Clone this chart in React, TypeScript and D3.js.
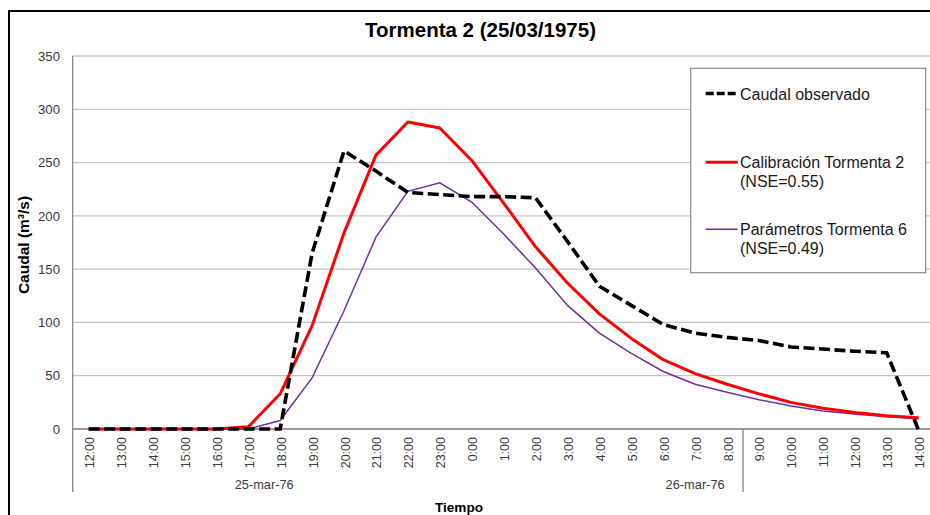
import React from "react";
import * as d3 from "d3";

const categories = [
  "12:00","13:00","14:00","15:00","16:00","17:00","18:00","19:00","20:00","21:00","22:00","23:00",
  "0:00","1:00","2:00","3:00","4:00","5:00","6:00","7:00","8:00","9:00","10:00","11:00","12:00","13:00","14:00",
];
const observado = [0,0,0,0,0,0,0,165,261,242,222,220,218,218,217,176,134,116,98,90,86,83,77,75,73,71.5,-1];
const calibracion = [0,0,0,0,0,2,33,97,184,257,288,282.5,252,212,171,137,108,85,65,52,42,33,25,19.5,15.5,12.5,10.5];
const parametros = [0,0,0,0,0,0,8,48,111,180,223,231,213,183,151,116,90,71,54,42,34.5,27.5,21.5,17,14,11.5,9.7];
const yTicks = [0,50,100,150,200,250,300,350];
const dateGroups = [
  { label: "25-mar-76", from: 0, to: 11 },
  { label: "26-mar-76", from: 12, to: 26 },
];
const separatorAfter = 20;

const FONT = "'Liberation Sans', Arial, sans-serif";

export default function App() {
  const left = 72.7;
  const step = 31.92;
  const right = left + step * categories.length;
  const top = 56;
  const bottom = 429;

  const x = d3.scalePoint<string>().domain(categories.map((c, i) => String(i))).range([left, right]).padding(0.5);
  const xi = (i: number) => x(String(i)) as number;
  const y = d3.scaleLinear().domain([0, 350]).range([bottom, top]);

  const line = d3
    .line<number>()
    .x((_, i) => xi(i))
    .y((d) => y(d));

  const sepX = (xi(separatorAfter) + xi(separatorAfter + 1)) / 2;

  const legendX1 = 705.7;
  const legendX2 = 737.7;

  return (
    <svg
      width={930}
      height={515}
      style={{ position: "absolute", left: 0, top: 0, background: "#fff" }}
      fontFamily={FONT}
    >
      <rect x={0} y={0} width={930} height={515} fill="#fff" />
      {/* outer chart border */}
      <rect x={9} y={11} width={1000} height={600} fill="none" stroke="#000" strokeWidth={2} />

      {/* title */}
      <text x={480.5} y={36.5} textAnchor="middle" fontSize={20.5} fontWeight="bold" fill="#000">
        Tormenta 2 (25/03/1975)
      </text>

      {/* gridlines */}
      {yTicks.map((t) => (
        <line key={t} x1={left} x2={right} y1={y(t)} y2={y(t)} stroke="#c4c4c4" strokeWidth={1.3} />
      ))}
      {/* axes */}
      <line x1={left} x2={right} y1={bottom} y2={bottom} stroke="#868686" strokeWidth={1.3} />
      <line x1={left} x2={left} y1={top} y2={492} stroke="#868686" strokeWidth={1.3} />
      <line x1={sepX} x2={sepX} y1={bottom} y2={492} stroke="#868686" strokeWidth={1.3} />

      {/* y tick labels */}
      {yTicks.map((t) => (
        <text key={t} x={60} y={y(t) + 4.7} textAnchor="end" fontSize={13.2} fill="#3a3a3a">
          {t}
        </text>
      ))}

      {/* x tick labels */}
      {categories.map((c, i) => (
        <text
          key={i}
          transform={`translate(${xi(i) + 1},437) rotate(-90)`}
          dy="0.36em"
          textAnchor="end"
          fontSize={12.5}
          fill="#3a3a3a"
        >
          {c}
        </text>
      ))}

      {/* date groups */}
      {dateGroups.map((g) => (
        <text
          key={g.label}
          x={(xi(g.from) + xi(g.to)) / 2}
          y={489}
          textAnchor="middle"
          fontSize={12.8}
          fill="#3a3a3a"
        >
          {g.label}
        </text>
      ))}

      {/* axis titles */}
      <text x={459} y={511.5} textAnchor="middle" fontSize={13.6} fontWeight="bold" fill="#000">
        Tiempo
      </text>
      <text
        transform="translate(29,245) rotate(-90)"
        textAnchor="middle"
        fontSize={15.5}
        fontWeight="bold"
        fill="#000"
      >
        Caudal (m³/s)
      </text>

      {/* series */}
      <path d={line(parametros) || ""} fill="none" stroke="#7030A0" strokeWidth={1.5} />
      <path d={line(calibracion) || ""} fill="none" stroke="#FF0000" strokeWidth={3} strokeLinejoin="round" />
      <path
        d={line(observado) || ""}
        fill="none"
        stroke="#000"
        strokeWidth={3.6}
        strokeDasharray="11 4.5"
      />

      {/* legend */}
      <rect x={690.7} y={68.3} width={235} height={204.4} fill="#fff" stroke="#8a8a8a" strokeWidth={1.2} />
      <line x1={legendX1} x2={legendX2} y1={93.5} y2={93.5} stroke="#000" strokeWidth={3.6} strokeDasharray="8 3" />
      <text x={740} y={99.5} fontSize={16} fill="#1a1a1a">Caudal observado</text>

      <line x1={legendX1} x2={legendX2} y1={162.3} y2={162.3} stroke="#FF0000" strokeWidth={3} />
      <text x={740} y={168} fontSize={16} fill="#1a1a1a">Calibración Tormenta 2</text>
      <text x={740} y={186.5} fontSize={16} fill="#1a1a1a">(NSE=0.55)</text>

      <line x1={legendX1} x2={legendX2} y1={229.3} y2={229.3} stroke="#7030A0" strokeWidth={1.5} />
      <text x={740} y={235} fontSize={16} fill="#1a1a1a">Parámetros Tormenta 6</text>
      <text x={740} y={253.5} fontSize={16} fill="#1a1a1a">(NSE=0.49)</text>
    </svg>
  );
}
